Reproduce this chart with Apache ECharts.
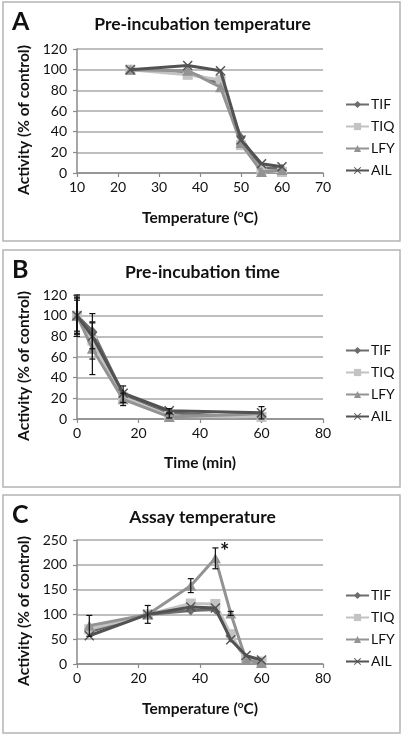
<!DOCTYPE html>
<html><head><meta charset="utf-8">
<script src="https://cdn.jsdelivr.net/npm/echarts@6/dist/echarts.min.js"></script>
<style>html,body{margin:0;padding:0;background:#fff}#c{width:405px;height:737px}</style>
</head><body><div id="c"></div>
<script>
// ---- Data ----
const seriesNames = ['TIF', 'TIQ', 'LFY', 'AIL'];

// Panel A: pre-incubation temperature
const tempA = [23, 37, 45, 50, 55, 60];
const A_TIF = [100, 98, 86, 34, 5, 4];
const A_TIQ = [100, 95, 90, 27, 3, 1];
const A_LFY = [100, 99, 83, 29, 1, 3];
const A_AIL = [100, 104, 99, 32, 9, 6];

// Panel B: pre-incubation time
const timeB = [0, 5, 15, 30, 60];
const B_TIF = [100, 85, 24, 6, 1];
const B_TIQ = [100, 76, 21, 3, 2];
const B_LFY = [100, 68, 19, 2, 5];
const B_AIL = [100, 80, 25, 8, 6];
// error half-widths (0 = none drawn)
const B_TIF_err = [18, 17, 8, 0, 0];
const B_TIQ_err = [20, 18, 0, 2, 0];
const B_LFY_err = [15, 25, 6, 0, 0];
const B_AIL_err = [17, 0, 0, 2, 6];

// Panel C: assay temperature
const tempC = [4, 23, 37, 45, 50, 55, 60];
const C_TIF = [65, 100, 108, 110, 53, 12, 4];
const C_TIQ = [70, 100, 122, 121, 60, 8, 5];
const C_LFY = [77, 100, 158, 213, 102, 8, 2];
const C_AIL = [57, 100, 115, 113, 49, 17, 8];
const C_TIF_err = [0, 0, 0, 0, 0, 0, 0];
const C_TIQ_err = [0, 0, 0, 0, 0, 0, 0];
const C_LFY_err = [21, 18, 14, 21, 4, 0, 0];
const C_AIL_err = [0, 0, 0, 0, 0, 0, 0];

// tick settings
const xA = {min: 10, max: 70, interval: 10};
const yA = {min: 0, max: 120, interval: 20};
const xB = {min: 0, max: 80, interval: 20};
const yB = {min: 0, max: 120, interval: 20};
const xC = {min: 0, max: 80, interval: 20};
const yC = {min: 0, max: 250, interval: 50};

// ---- Styles ----
const FONT = 'Lato, "Open Sans", sans-serif';
const colors = {TIF: '#6c6c6c', TIQ: '#c3c3c3', LFY: '#939393', AIL: '#525252'};
const crossPath = 'path://M0,1L1,0L5,4L9,0L10,1L6,5L10,9L9,10L5,6L1,10L0,9L4,5Z';
const symbols = {TIF: 'diamond', TIQ: 'rect', LFY: 'triangle', AIL: crossPath};
const symSize = {TIF: [9, 10], TIQ: 10, LFY: [11, 10], AIL: 10};

const panels = [
  {x: tempA, ys: [A_TIF, A_TIQ, A_LFY, A_AIL], errs: null, top: 49, xr: xA, yr: yA, xname: 'temp', letter: 'A', title: 'Pre-incubation temperature', box: [3, 2, 397, 239]},
  {x: timeB, ys: [B_TIF, B_TIQ, B_LFY, B_AIL], errs: [B_TIF_err, B_TIQ_err, B_LFY_err, B_AIL_err], top: 295, xr: xB, yr: yB, xname: 'time', letter: 'B', title: 'Pre-incubation time', box: [3, 250, 397, 237]},
  {x: tempC, ys: [C_TIF, C_TIQ, C_LFY, C_AIL], errs: [C_TIF_err, C_TIQ_err, C_LFY_err, C_AIL_err], top: 540, xr: xC, yr: yC, xname: 'temp', letter: 'C', title: 'Assay temperature', box: [3, 495, 397, 238]}
];

const grids = [], xAxes = [], yAxes = [], series = [], titles = [], legends = [], graphics = [];
const gridH = 124;

panels.forEach((p, pi) => {
  grids.push({left: 77, width: 246, top: p.top, height: gridH});
  xAxes.push({
    type: 'value', gridIndex: pi, min: p.xr.min, max: p.xr.max, interval: p.xr.interval,
    splitLine: {show: false},
    axisLine: {show: true, lineStyle: {color: '#8a8a8a', width: 1.5}},
    axisTick: {show: true, length: 4, lineStyle: {color: '#8a8a8a', width: 1.2}},
    axisLabel: {color: '#111', fontFamily: FONT, fontSize: 14, margin: 7},
    name: p.xname === 'temp' ? 'Temperature ({sup|o}C)' : 'Time (min)',
    nameLocation: 'middle', nameGap: 36,
    nameTextStyle: {color: '#111', fontFamily: FONT, fontSize: 15.5, fontWeight: 'bold',
      rich: {sup: {fontFamily: FONT, fontSize: 10, fontWeight: 'bold', color: '#111', verticalAlign: 'top', padding: [0, 0, 7, 0]}}}
  });
  yAxes.push({
    type: 'value', gridIndex: pi, min: p.yr.min, max: p.yr.max, interval: p.yr.interval,
    splitLine: {show: true, lineStyle: {color: '#a8a8a8', width: 1.5}},
    axisLine: {show: true, lineStyle: {color: '#8a8a8a', width: 1.5}},
    axisTick: {show: true, length: 4, lineStyle: {color: '#8a8a8a', width: 1.2}},
    axisLabel: {color: '#111', fontFamily: FONT, fontSize: 14, margin: 10},
    name: 'Activity (% of control)', nameLocation: 'middle', nameGap: 38,
    nameTextStyle: {color: '#111', fontFamily: FONT, fontSize: 15.5, fontWeight: 'bold', padding: [0, 18, 0, 0]}
  });
  seriesNames.forEach((n, si) => {
    const s = {
      name: n, type: 'line', xAxisIndex: pi, yAxisIndex: pi,
      data: p.x.map((xv, i) => [xv, p.ys[si][i]]),
      symbol: symbols[n], symbolSize: symSize[n],
      lineStyle: {color: colors[n], width: 3},
      itemStyle: {color: colors[n]},
      z: 2 + si, animation: false
    };
    if (pi === 2 && n === 'LFY') {
      s.markPoint = {
        symbol: 'circle', symbolSize: 0, animation: false,
        data: [{coord: [48, 226], value: '*'}],
        label: {show: true, formatter: '*', color: '#111', fontFamily: FONT, fontSize: 22, fontWeight: 'bold', position: 'inside'}
      };
    }
    series.push(s);
    if (p.errs) {
      const err = p.errs[si];
      const d = [];
      p.x.forEach((xv, i) => { if (err[i] > 0) d.push([xv, p.ys[si][i] - err[i], p.ys[si][i] + err[i]]); });
      series.push({
        type: 'custom', name: n + '_err', xAxisIndex: pi, yAxisIndex: pi, data: d, z: 10, animation: false, silent: true,
        renderItem: (params, api) => {
          const a = api.coord([api.value(0), api.value(2)]);
          const b = api.coord([api.value(0), api.value(1)]);
          const w = 3;
          const st = {stroke: '#111', lineWidth: 1.2};
          return {type: 'group', children: [
            {type: 'line', shape: {x1: a[0], y1: a[1], x2: b[0], y2: b[1]}, style: st},
            {type: 'line', shape: {x1: a[0] - w, y1: a[1], x2: a[0] + w, y2: a[1]}, style: st},
            {type: 'line', shape: {x1: b[0] - w, y1: b[1], x2: b[0] + w, y2: b[1]}, style: st}
          ]};
        }
      });
    }
  });
  titles.push({text: p.letter, left: 12, top: p.box[1] + 7, padding: 0,
    textStyle: {fontFamily: FONT, fontSize: 25, fontWeight: 'bold', color: '#111'}});
  titles.push({text: p.title, left: 'center', top: p.box[1] + 13, padding: 0,
    textStyle: {fontFamily: FONT, fontSize: 17.5, fontWeight: 'bold', color: '#111'}});
  legends.push({
    orient: 'vertical', left: 345, top: p.top + 48, padding: 0,
    itemWidth: 23, itemHeight: 9, itemGap: 7,
    data: seriesNames,
    textStyle: {fontFamily: FONT, fontSize: 14, color: '#111', lineHeight: 15, padding: [0, 0, 0, -3]},
    selectedMode: false
  });
  graphics.push({type: 'rect', shape: {x: p.box[0], y: p.box[1], width: p.box[2], height: p.box[3]},
    style: {fill: 'none', stroke: '#b4b4b4', lineWidth: 1.5}, silent: true});
});

const chart = echarts.init(document.getElementById('c'), null, {renderer: 'canvas'});
chart.setOption({
  animation: false,
  backgroundColor: '#fff',
  title: titles, legend: legends, grid: grids, xAxis: xAxes, yAxis: yAxes, series: series,
  graphic: graphics
});
</script></body></html>
